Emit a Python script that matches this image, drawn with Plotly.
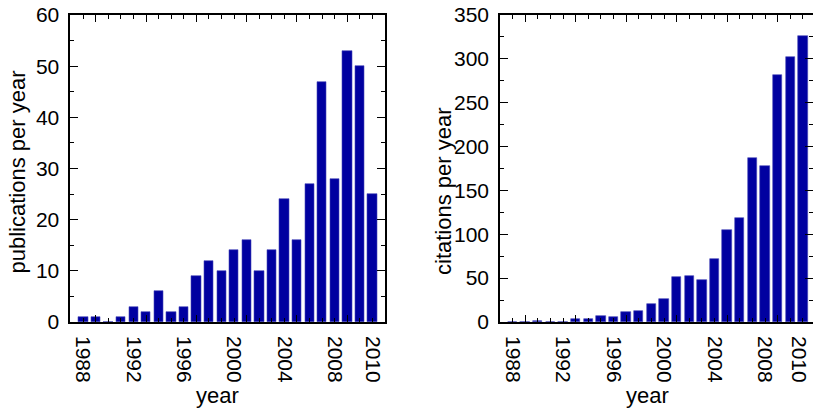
import plotly.graph_objects as go

years = list(range(1988, 2012))
publications = [1, 1, 0, 1, 3, 2, 6, 2, 3, 9, 12, 10, 14, 16, 10, 14, 24, 16, 27, 47, 28, 53, 50, 25]
citations = [0, 0, 1, 0, 0, 3, 3, 7, 6, 11, 12, 21, 26, 51, 52, 48, 72, 105, 119, 187, 178, 282, 302, 326]

label_text = ["1988", "1992", "1996", "2000", "2004", "2008", "2010"]
label_pos_left = [1988, 1992, 1996, 2000, 2004, 2008, 2011]
label_pos_right = [1988, 1992, 1996, 2000, 2004, 2008, 2010.7]
major_pos = [1989, 1993, 1997, 2001, 2005, 2009]

BAR = "#0000a0"
EDGE = "#4646b8"
FONT = "Liberation Sans, Arial, sans-serif"

W, H = 813, 410
ydom = [(H - 322) / H, (H - 15) / H]
left_dom = [70.3 / W, 384.5 / W]
right_dom = [500.0 / W, 1.0]

fig = go.Figure()
fig.add_trace(go.Bar(x=years, y=publications, width=0.74, marker=dict(color=BAR, line=dict(color=EDGE, width=0.6)),
                     xaxis="x", yaxis="y", showlegend=False))
fig.add_trace(go.Bar(x=years, y=citations, width=0.74, marker=dict(color=BAR, line=dict(color=EDGE, width=0.6)),
                     xaxis="x2", yaxis="y2", showlegend=False))
# tick-carrying overlay axes
fig.add_trace(go.Scatter(x=[None], y=[None], xaxis="x3", yaxis="y", showlegend=False, hoverinfo="skip"))
fig.add_trace(go.Scatter(x=[None], y=[None], xaxis="x4", yaxis="y2", showlegend=False, hoverinfo="skip"))

lrange = [1986.97, 2011.96]
rrange = [1987.01, 2011.8]

def label_axis(dom, rng, anchor, pos):
    return dict(domain=dom, range=rng, anchor=anchor, tickmode="array", tickvals=pos, ticktext=label_text,
                tickangle=90, ticks="", showline=True, linecolor="black", linewidth=1.6, mirror=True,
                showgrid=False, zeroline=False, tickfont=dict(family=FONT, size=21, color="black"),
                ticklabelstandoff=8, ticklabeloverflow="allow", automargin=False, fixedrange=True)

def tick_axis(dom, rng, anchor, over):
    return dict(domain=dom, range=rng, anchor=anchor, overlaying=over, tickmode="array", tickvals=major_pos,
                ticks="inside", ticklen=7, tickwidth=1.3, tickcolor="black", showticklabels=False,
                showline=False, mirror="ticks", showgrid=False, zeroline=False, automargin=False,
                minor=dict(tickmode="array", tickvals=years, ticks="inside", ticklen=4, tickwidth=1.3, tickcolor="black", showgrid=False),
                fixedrange=True)

def y_axis(dom, rng, dt, anchor):
    return dict(domain=dom, range=rng, anchor=anchor, dtick=dt, tick0=0, ticks="inside", ticklen=8, tickwidth=1.3,
                tickcolor="black", showline=True, linecolor="black", linewidth=1.6, mirror="ticks",
                showgrid=False, zeroline=False, tickfont=dict(family=FONT, size=21, color="black"),
                ticklabelstandoff=5, ticklabeloverflow="allow", automargin=False,
                minor=dict(dtick=dt / 2, ticks="inside", ticklen=4, tickwidth=1.3, tickcolor="black", showgrid=False),
                fixedrange=True)

fig.update_layout(
    width=W, height=H, margin=dict(l=0, r=0, t=0, b=0, autoexpand=False),
    paper_bgcolor="white", plot_bgcolor="white", bargap=0,
    xaxis=label_axis(left_dom, lrange, "y", label_pos_left),
    xaxis2=label_axis(right_dom, rrange, "y2", label_pos_right),
    xaxis3=tick_axis(left_dom, lrange, "y", "x"),
    xaxis4=tick_axis(right_dom, rrange, "y2", "x2"),
    yaxis=y_axis(ydom, [0, 60], 10, "x"),
    yaxis2=y_axis(ydom, [0, 350], 50, "x2"),
)

ann_font = dict(family=FONT, size=22, color="black")
fig.add_annotation(text="publications per year", x=17 / W, y=1 - 172.5 / H, xref="paper", yref="paper",
                   textangle=-90, showarrow=False, xanchor="center", yanchor="middle", font=ann_font)
fig.add_annotation(text="citations per year", x=443 / W, y=1 - 191 / H, xref="paper", yref="paper",
                   textangle=-90, showarrow=False, xanchor="center", yanchor="middle", font=ann_font)
fig.add_annotation(text="year", x=217 / W, y=1 - 395 / H, xref="paper", yref="paper",
                   showarrow=False, xanchor="center", yanchor="middle", font=ann_font)
fig.add_annotation(text="year", x=647 / W, y=1 - 395 / H, xref="paper", yref="paper",
                   showarrow=False, xanchor="center", yanchor="middle", font=ann_font)

fig.write_html("out.html")
